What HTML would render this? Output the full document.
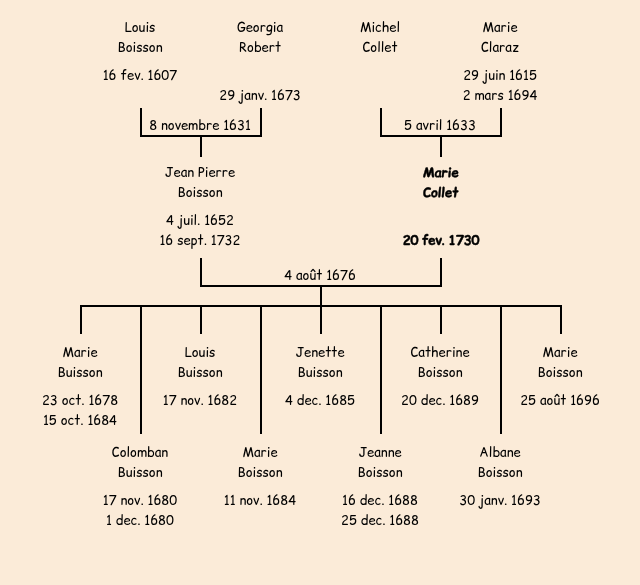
<!DOCTYPE html>
<html lang="fr"><head><meta charset="utf-8"><title>Arbre</title>
<style>
html,body{margin:0;padding:0}
body{width:640px;height:585px;background:#FBEBD8;position:relative;overflow:hidden;
font-family:"Comic Sans MS", "Comic Relief", "Comic Neue", "Liberation Sans", sans-serif;font-size:13px;color:#000}
.l{position:absolute;background:#000}
.t{will-change:transform;position:absolute;width:200px;height:20px;line-height:20px;text-align:center;white-space:nowrap}
.b{font-weight:bold;-webkit-text-stroke:.4px #000}
.d{letter-spacing:-.2px;position:relative;left:1px}
i{font-style:normal;display:inline-block;transform:skewX(-4deg);position:relative;left:.5px}
.n{font-weight:normal;-webkit-text-stroke:.6px #000}
</style></head><body>
<div class="l" style="left:140px;top:108px;width:2px;height:29px"></div>
<div class="l" style="left:260px;top:108px;width:2px;height:29px"></div>
<div class="l" style="left:140px;top:135px;width:122px;height:2px"></div>
<div class="l" style="left:200px;top:137px;width:2px;height:20px"></div>
<div class="l" style="left:380px;top:108px;width:2px;height:29px"></div>
<div class="l" style="left:500px;top:108px;width:2px;height:29px"></div>
<div class="l" style="left:380px;top:135px;width:122px;height:2px"></div>
<div class="l" style="left:440px;top:137px;width:2px;height:20px"></div>
<div class="l" style="left:200px;top:258px;width:2px;height:29px"></div>
<div class="l" style="left:440px;top:258px;width:2px;height:29px"></div>
<div class="l" style="left:200px;top:285px;width:242px;height:2px"></div>
<div class="l" style="left:320px;top:287px;width:2px;height:18px"></div>
<div class="l" style="left:80px;top:305px;width:482px;height:2px"></div>
<div class="l" style="left:80px;top:307px;width:2px;height:27px"></div>
<div class="l" style="left:200px;top:307px;width:2px;height:27px"></div>
<div class="l" style="left:320px;top:307px;width:2px;height:27px"></div>
<div class="l" style="left:440px;top:307px;width:2px;height:27px"></div>
<div class="l" style="left:560px;top:307px;width:2px;height:27px"></div>
<div class="l" style="left:140px;top:307px;width:2px;height:127px"></div>
<div class="l" style="left:260px;top:307px;width:2px;height:127px"></div>
<div class="l" style="left:380px;top:307px;width:2px;height:127px"></div>
<div class="l" style="left:500px;top:307px;width:2px;height:127px"></div>
<div class="t" style="left:40px;top:17px">Louis</div>
<div class="t" style="left:40px;top:37px">Boisson</div>
<div class="t" style="left:40px;top:65px">16 fev. 1607</div>
<div class="t" style="left:160px;top:17px">Georgia</div>
<div class="t" style="left:160px;top:37px">Robert</div>
<div class="t" style="left:160px;top:85px">29 janv. 1673</div>
<div class="t" style="left:280px;top:17px">Michel</div>
<div class="t" style="left:280px;top:37px">Collet</div>
<div class="t" style="left:400px;top:17px">Marie</div>
<div class="t" style="left:400px;top:37px">Claraz</div>
<div class="t" style="left:400px;top:65px">29 juin 1615</div>
<div class="t" style="left:400px;top:85px">2 mars 1694</div>
<div class="t" style="left:100px;top:115px">8 novembre 1631</div>
<div class="t" style="left:340px;top:115px">5 avril 1633</div>
<div class="t" style="left:100px;top:162px">Jean Pierre</div>
<div class="t" style="left:100px;top:182px">Boisson</div>
<div class="t" style="left:100px;top:210px">4 juil. 1652</div>
<div class="t" style="left:100px;top:230px">16 sept. 1732</div>
<div class="t b" style="left:340px;top:162px"><i>Marie</i></div>
<div class="t b" style="left:340px;top:182px"><i>Collet</i></div>
<div class="t b" style="left:340px;top:230px"><span class="d">20<span class="n"> </span>fev<span class="n">. </span>1730</span></div>
<div class="t" style="left:220px;top:265px">4 août 1676</div>
<div class="t" style="left:-20px;top:342px">Marie</div>
<div class="t" style="left:-20px;top:362px">Buisson</div>
<div class="t" style="left:-20px;top:390px">23 oct. 1678</div>
<div class="t" style="left:-20px;top:410px">15 oct. 1684</div>
<div class="t" style="left:100px;top:342px">Louis</div>
<div class="t" style="left:100px;top:362px">Buisson</div>
<div class="t" style="left:100px;top:390px">17 nov. 1682</div>
<div class="t" style="left:220px;top:342px">Jenette</div>
<div class="t" style="left:220px;top:362px">Buisson</div>
<div class="t" style="left:220px;top:390px">4 dec. 1685</div>
<div class="t" style="left:340px;top:342px">Catherine</div>
<div class="t" style="left:340px;top:362px">Boisson</div>
<div class="t" style="left:340px;top:390px">20 dec. 1689</div>
<div class="t" style="left:460px;top:342px">Marie</div>
<div class="t" style="left:460px;top:362px">Boisson</div>
<div class="t" style="left:460px;top:390px">25 août 1696</div>
<div class="t" style="left:40px;top:442px">Colomban</div>
<div class="t" style="left:40px;top:462px">Buisson</div>
<div class="t" style="left:40px;top:490px">17 nov. 1680</div>
<div class="t" style="left:40px;top:510px">1 dec. 1680</div>
<div class="t" style="left:160px;top:442px">Marie</div>
<div class="t" style="left:160px;top:462px">Boisson</div>
<div class="t" style="left:160px;top:490px">11 nov. 1684</div>
<div class="t" style="left:280px;top:442px">Jeanne</div>
<div class="t" style="left:280px;top:462px">Boisson</div>
<div class="t" style="left:280px;top:490px">16 dec. 1688</div>
<div class="t" style="left:280px;top:510px">25 dec. 1688</div>
<div class="t" style="left:400px;top:442px">Albane</div>
<div class="t" style="left:400px;top:462px">Boisson</div>
<div class="t" style="left:400px;top:490px">30 janv. 1693</div>
</body></html>
